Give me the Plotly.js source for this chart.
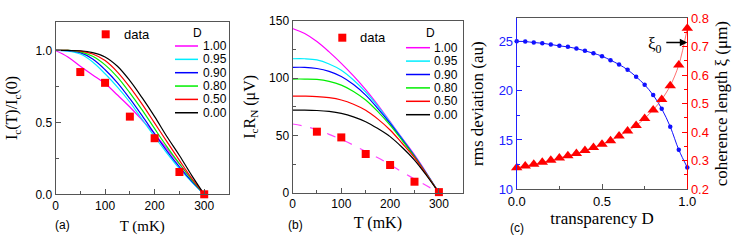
<!DOCTYPE html>
<html>
<head>
<meta charset="utf-8">
<script src="https://cdn.plot.ly/plotly-3.0.1.min.js"></script>
<style>html,body{margin:0;padding:0;background:#fff;}#chart{width:747px;height:243px;}</style>
</head>
<body>
<div id="chart"></div>
<script>
// ---------- DATA ----------
const T = [0,25,50,75,100,125,150,175,200,225,250,275,300];
const D_labels = ['1.00','0.95','0.90','0.80','0.50','0.00'];
const D_colors = ['#ff00ff','#00eeff','#0000ff','#00ee00','#ff0000','#000000'];

// panel (a): Ic(T)/Ic(0)
const a_D100 = [1.0,0.955,0.89,0.83,0.77,0.69,0.607,0.515,0.42,0.315,0.21,0.105,0.0];
const a_D095 = [1.0,0.996,0.975,0.92,0.838,0.745,0.64,0.52,0.40,0.285,0.178,0.085,0.0];
const a_D090 = [1.0,0.998,0.985,0.94,0.866,0.775,0.665,0.545,0.42,0.30,0.19,0.09,0.0];
const a_D080 = [1.0,1.0,0.99,0.96,0.90,0.815,0.705,0.585,0.456,0.33,0.213,0.10,0.0];
const a_D050 = [1.0,1.0,0.995,0.975,0.93,0.85,0.745,0.625,0.495,0.365,0.236,0.11,0.0];
const a_D000 = [1.0,1.0,0.998,0.985,0.955,0.89,0.79,0.67,0.54,0.40,0.27,0.13,0.0];
const T_data = [50,100,150,200,250,300];
const a_data = [0.85,0.775,0.54,0.39,0.155,0.0];

// panel (b): IcRN (uV)
const b_D100 = [143.5,139,132,123,113,102,90,76.5,62,47.5,33,17,0];
const b_D095 = [117,117,116,112.5,107,98.5,88,75.5,61.5,47,32.3,16.5,0];
const b_D090 = [109.5,109.5,108.5,106,101.5,94.5,85.3,73.5,60.6,46.5,32,16.3,0];
const b_D080 = [99.3,99.3,99,97.3,94,88.5,81,70.8,59,45.5,31.5,16,0];
const b_D050 = [84.3,84.3,84,83,81,77.3,72,64.3,54.8,43,30.6,15.7,0];
const b_D000 = [72.1,72.1,71.8,71,69.3,66.3,62,56,49,39.5,28.5,14.8,0];
const b_fit  = [60,58,55,51,46.5,41.5,36,30.5,24.5,18,12,6,0];
const b_data = [53.3,48.3,33.8,24.2,9.6,0.5];

// panel (c): rms deviation and coherence length vs transparency D
const D_c = [0,0.05,0.1,0.15,0.2,0.25,0.3,0.35,0.4,0.45,0.5,0.55,0.6,0.65,0.7,0.75,0.8,0.85,0.9,0.95,1.0];
const rms = [25.05,25.03,24.93,24.86,24.73,24.59,24.49,24.32,24.08,23.84,23.54,23.13,22.69,22.15,21.44,20.62,19.57,18.18,16.35,14.0,12.2];
const xi  = [0.275,0.281,0.287,0.294,0.301,0.309,0.317,0.325,0.335,0.346,0.357,0.370,0.386,0.404,0.423,0.448,0.478,0.515,0.563,0.636,0.765];

// ---------- HELPERS ----------
const W = 747, H = 243;
const px = x => x / W;
const py = y => 1 - y / H;
const SANS = 'Liberation Sans, Arial, sans-serif';
const SERIF = 'Liberation Serif, Times New Roman, serif';
const FRAME = '#555';

function axis(extra) {
  return Object.assign({
    showgrid: false, zeroline: false, showline: true, linecolor: FRAME, linewidth: 1,
    mirror: true, ticks: 'inside', ticklen: 5, tickcolor: FRAME, tickwidth: 1,
    tickfont: {family: SANS, size: 12, color: '#000'}
  }, extra);
}

const aSeries = [a_D100, a_D095, a_D090, a_D080, a_D050, a_D000];
const bSeries = [b_D100, b_D095, b_D090, b_D080, b_D050, b_D000];

const traces = [];
aSeries.forEach((ys, i) => traces.push({
  x: T, y: ys, xaxis: 'x', yaxis: 'y', mode: 'lines', name: D_labels[i],
  line: {color: D_colors[i], width: 1.2, shape: 'spline'}, showlegend: false
}));
traces.push({x: T_data, y: a_data, xaxis: 'x', yaxis: 'y', mode: 'markers', name: 'data',
  marker: {symbol: 'square', size: 8, color: '#ff0000'}, cliponaxis: false, showlegend: false});

bSeries.forEach((ys, i) => traces.push({
  x: T, y: ys, xaxis: 'x2', yaxis: 'y2', mode: 'lines', name: D_labels[i],
  line: {color: D_colors[i], width: 1.2, shape: 'spline'}, showlegend: false
}));
traces.push({x: T, y: b_fit, xaxis: 'x2', yaxis: 'y2', mode: 'lines', name: 'fit',
  line: {color: '#ff44ff', width: 1.2, dash: 'dash', shape: 'spline'}, showlegend: false});
traces.push({x: T_data, y: b_data, xaxis: 'x2', yaxis: 'y2', mode: 'markers', name: 'data',
  marker: {symbol: 'square', size: 8, color: '#ff0000'}, cliponaxis: false, showlegend: false});

traces.push({x: D_c, y: rms, xaxis: 'x3', yaxis: 'y3', mode: 'lines+markers', name: 'rms',
  line: {color: '#1010ff', width: 1, shape: 'spline'}, marker: {size: 4.5, color: '#1010ff'},
  cliponaxis: false, showlegend: false});
traces.push({x: D_c, y: xi, xaxis: 'x3', yaxis: 'y4', mode: 'lines+markers', name: 'xi',
  line: {color: '#ff3030', width: 0.7, shape: 'spline'}, marker: {symbol: 'triangle-up', size: 10, color: '#ff0000'},
  cliponaxis: false, showlegend: false});

// ---------- MANUAL LEGENDS ----------
const shapes = [];
const annotations = [];
function legend(x0, x1, xt, y0, dy, xD, yD, mx, my, tx, ty) {
  D_labels.forEach((lab, i) => {
    const y = y0 + i * dy;
    shapes.push({type: 'line', xref: 'paper', yref: 'paper', x0: px(x0), x1: px(x1), y0: py(y), y1: py(y),
      line: {color: D_colors[i], width: 1.5}});
    annotations.push({xref: 'paper', yref: 'paper', x: px(xt), y: py(y), xanchor: 'left', yanchor: 'middle',
      text: lab, showarrow: false, font: {family: SANS, size: 12, color: '#000'}});
  });
  annotations.push({xref: 'paper', yref: 'paper', x: px(xD), y: py(yD), xanchor: 'center', yanchor: 'middle',
    text: 'D', showarrow: false, font: {family: SANS, size: 12, color: '#000'}});
  shapes.push({type: 'rect', xref: 'paper', yref: 'paper', x0: px(mx - 4), x1: px(mx + 4), y0: py(my - 4), y1: py(my + 4),
    fillcolor: '#ff0000', line: {width: 0}});
  annotations.push({xref: 'paper', yref: 'paper', x: px(tx), y: py(ty), xanchor: 'center', yanchor: 'middle',
    text: 'data', showarrow: false, font: {family: SANS, size: 13, color: '#000'}});
}
legend(175, 198, 201, 46, 13.35, 197, 33, 105.7, 34.3, 136.7, 34.5);
legend(406, 430, 432, 47.7, 13.4, 430, 33.3, 342.3, 37.7, 373, 38);

// panel labels
[['(a)', 63], ['(b)', 295], ['(c)', 517]].forEach(([t, x], i) => {
  annotations.push({xref: 'paper', yref: 'paper', x: px(x), y: py(i === 2 ? 228 : 225), xanchor: 'center', yanchor: 'middle',
    text: t, showarrow: false, font: {family: SANS, size: 12, color: '#000'}});
});

// xi0 arrow
annotations.push({xref: 'paper', yref: 'paper', x: px(655), y: py(45), xanchor: 'center', yanchor: 'middle',
  text: 'ξ<sub>0</sub>', showarrow: false, font: {family: SERIF, size: 17, color: '#000'}});
annotations.push({xref: 'x3', yref: 'y4', x: 1.0, y: 0.715, ax: -24, ay: 0, text: ' ', showarrow: true,
  arrowhead: 2, arrowsize: 1, arrowwidth: 1.5, arrowcolor: '#000', standoff: 0});

// ---------- LAYOUT ----------
const layout = {
  width: W, height: H, margin: {l: 0, r: 0, t: 0, b: 0}, paper_bgcolor: '#fff', plot_bgcolor: '#fff',
  showlegend: false,
  xaxis: axis({domain: [px(55.5), px(229)], range: [0, 350], dtick: 100, anchor: 'y',
    minor: {dtick: 50, ticks: 'inside', ticklen: 3, tickcolor: FRAME},
    title: {text: 'T (mK)', font: {family: SERIF, size: 15, color: '#000'}, standoff: 8}}),
  yaxis: axis({domain: [py(194.3), py(21.7)], range: [0, 1.2], tickvals: [0, 0.5, 1.0], tickformat: '.1f', anchor: 'x',
    minor: {tickvals: [0.25, 0.75], ticks: 'inside', ticklen: 3, tickcolor: FRAME},
    title: {text: 'I<sub>c</sub>(T)/I<sub>c</sub>(0)', font: {family: SERIF, size: 16, color: '#000'}, standoff: 13}}),
  xaxis2: axis({domain: [px(292.5), px(463.3)], range: [0, 350], dtick: 100, anchor: 'y2',
    minor: {dtick: 50, ticks: 'inside', ticklen: 3, tickcolor: FRAME},
    title: {text: 'T (mK)', font: {family: SERIF, size: 16, color: '#000'}, standoff: 6}}),
  yaxis2: axis({domain: [py(192.7), py(21)], range: [0, 150], dtick: 50, anchor: 'x2',
    minor: {dtick: 25, ticks: 'inside', ticklen: 3, tickcolor: FRAME},
    title: {text: 'I<sub>c</sub>R<sub>N</sub> (μV)', font: {family: SERIF, size: 16, color: '#000'}, standoff: 9}}),
  xaxis3: axis({domain: [px(516.7), px(687.3)], range: [0, 1], dtick: 0.5, tickformat: '.1f', anchor: 'y3',
    minor: {dtick: 0.25, ticks: 'inside', ticklen: 3, tickcolor: FRAME},
    tickfont: {family: SANS, size: 13, color: '#000'},
    title: {text: 'transparency D', font: {family: SERIF, size: 17, color: '#000'}, standoff: 4}}),
  yaxis3: axis({domain: [py(189), py(18.3)], range: [10, 27.4], dtick: 5, anchor: 'x3', side: 'left', mirror: false,
    linecolor: '#2020ff', tickcolor: '#2020ff',
    minor: {dtick: 2.5, ticks: 'inside', ticklen: 3, tickcolor: '#2020ff'},
    tickfont: {family: SANS, size: 13, color: '#2020ff'},
    title: {text: 'rms deviation (au)', font: {family: SERIF, size: 17, color: '#000'}, standoff: 10}}),
  yaxis4: axis({domain: [py(189), py(18.3)], range: [0.2, 0.8], dtick: 0.1, tickformat: '.1f', anchor: 'x3',
    overlaying: 'y3', side: 'right', mirror: false,
    linecolor: '#ff0000', tickcolor: '#ff0000',
    minor: {dtick: 0.05, ticks: 'inside', ticklen: 3, tickcolor: '#ff0000'},
    tickfont: {family: SANS, size: 13, color: '#ff0000'},
    title: {text: 'coherence length ξ (μm)', font: {family: SERIF, size: 17, color: '#000'}, standoff: 7}}),
  shapes: shapes,
  annotations: annotations
};

Plotly.newPlot('chart', traces, layout, {staticPlot: true, displayModeBar: false});
</script>
</body>
</html>
